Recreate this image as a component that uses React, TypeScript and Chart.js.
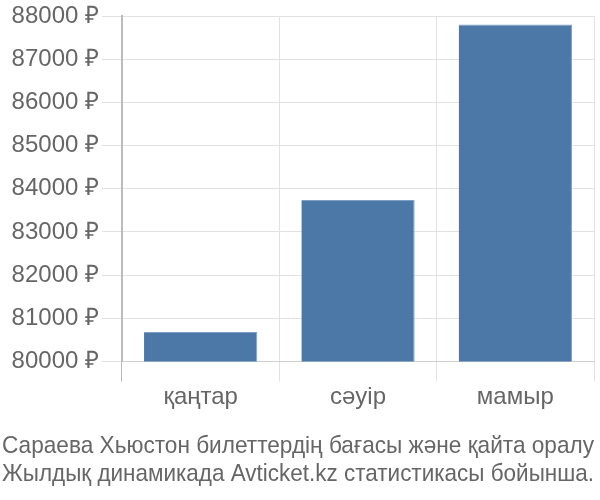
import { useEffect, useRef } from 'react';
import { Chart, registerables } from 'chart.js';

Chart.register(...registerables);

const months = ['қаңтар', 'сәуір', 'мамыр'];
const prices = [80680, 83740, 87810];
const titleLines = [
  'Сараева Хьюстон билеттердің бағасы және қайта оралу',
  'Жылдық динамикада Avticket.kz статистикасы бойынша.',
];

const FONT = "'Liberation Sans', Arial, sans-serif";

export default function App() {
  const chartRef = useRef<HTMLCanvasElement>(null);

  useEffect(() => {
    if (!chartRef.current) return;
    const ctx = chartRef.current.getContext('2d');
    if (!ctx) return;

    const chart = new Chart(ctx, {
      type: 'bar',
      data: {
        labels: months,
        datasets: [{
          data: prices,
          backgroundColor: '#4c78a8',
          borderColor: '#7f9fc4',
          borderWidth: { top: 1, right: 1, left: 0, bottom: 0 },
        }],
      },
      options: {
        animation: false,
        responsive: true,
        maintainAspectRatio: false,
        layout: { padding: { left: 2, right: 6, top: 0, bottom: 0 } },
        plugins: {
          legend: { display: false },
          tooltip: { enabled: false },
          title: {
            display: true,
            position: 'bottom',
            align: 'start',
            text: titleLines,
            color: '#666',
            font: { family: FONT, size: 24.4, weight: 'normal', lineHeight: 1.13 },
            padding: { top: 19, bottom: 12 },
          },
        },
        scales: {
          x: {
            grid: {
              color: (c: any) => (c.index === 0 ? '#bbb' : '#e2e2e2'),
              tickLength: 20,
              lineWidth: 1,
            },
            border: { display: true, color: '#d0d0d0' },
            ticks: {
              color: '#666',
              padding: 3,
              font: { family: FONT, size: 24, lineHeight: 1.1 },
            },
          },
          y: {
            min: 80000,
            max: 88000,
            grid: { color: '#e2e2e2', tickLength: 20 },
            border: { display: true, color: '#bbb', width: 2 },
            afterFit: (scale: any) => { scale.width = 120; },
            ticks: {
              stepSize: 1000,
              color: '#666',
              padding: 3,
              font: { family: FONT, size: 24, lineHeight: 1.1 },
              callback: (v: any) => `${v} ₽`,
            },
          },
        },
      },
    });

    return () => chart.destroy();
  }, []);

  return (
    <div style={{ position: 'absolute', left: 0, top: 0, width: 600, height: 500 }}>
      <canvas ref={chartRef} />
    </div>
  );
}
